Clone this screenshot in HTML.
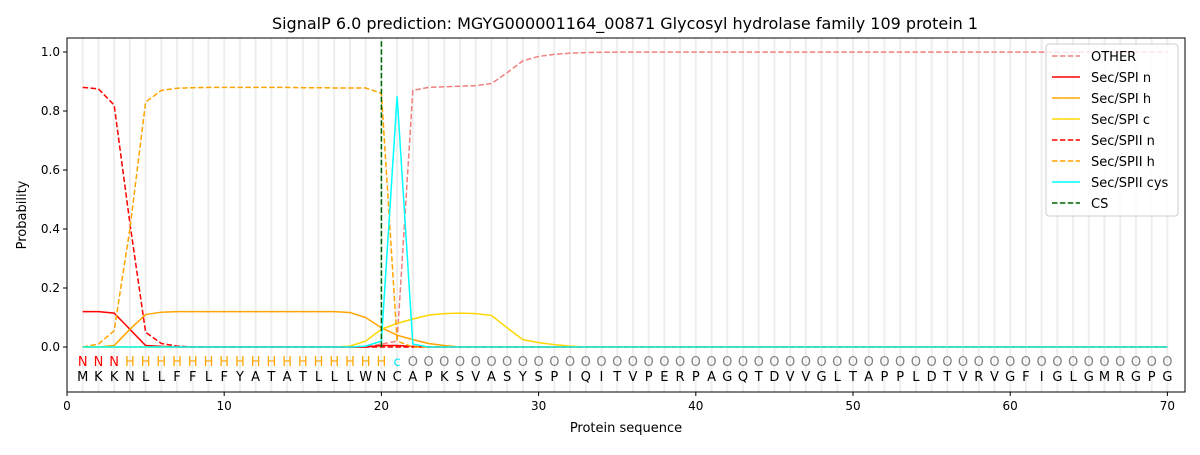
<!DOCTYPE html>
<html><head><meta charset="utf-8"><style>
body{margin:0;background:#fff;font-family:"Liberation Sans","DejaVu Sans",sans-serif}
svg text{font-family:"DejaVu Sans","Liberation Sans",sans-serif}
</style></head><body>
<svg id="chart" width="1200" height="450" xmlns="http://www.w3.org/2000/svg">
<rect width="1200" height="450" fill="#fff"/>
<text x="625" y="29" font-size="16" text-anchor="middle">SignalP 6.0 prediction: MGYG000001164_00871 Glycosyl hydrolase family 109 protein 1</text>
<g id="grid"></g><g id="series"></g><g id="labels"></g>
<rect x="67" y="38" width="1118" height="354" fill="none" stroke="#000" stroke-width="1"/>
<g id="axes"></g>
<text x="626" y="432" font-size="13" text-anchor="middle">Protein sequence</text>
<text transform="translate(26,215) rotate(-90)" font-size="13" text-anchor="middle">Probability</text>
<g id="legend"></g>
</svg>
<script>
const sequence = "MKKNLLFFLFYATATLLLWNCAPKSVASYSPIQITVPERPAGQTDVVGLTAPPLDTVRVGFIGLGMRGPG";
const regionLabels = "NNNHHHHHHHHHHHHHHHHHcOOOOOOOOOOOOOOOOOOOOOOOOOOOOOOOOOOOOOOOOOOOOOOOOOO";
const other = [0,0,0,0,0,0,0,0,0,0,0,0,0,0,0,0,0,0,0,0.01,0.02,0.87,0.88,0.882,0.884,0.886,0.893,0.93,0.97,0.985,0.992,0.996,0.998,0.999];
const spiN = [0.12,0.12,0.115,0.06,0.005,0.002,0,0,0,0,0,0,0,0,0,0,0,0,0,0.005,0.005,0.002];
const spiH = [0,0,0.005,0.06,0.11,0.118,0.12,0.12,0.12,0.12,0.12,0.12,0.12,0.12,0.12,0.12,0.12,0.117,0.1,0.065,0.04,0.025,0.012,0.005];
const spiC = [0,0,0,0,0,0,0,0,0,0,0,0,0,0,0,0,0,0.003,0.02,0.06,0.08,0.095,0.108,0.113,0.115,0.113,0.107,0.065,0.025,0.015,0.008,0.003];
const spiiN = [0.88,0.875,0.82,0.42,0.05,0.012,0.003];
const spiiH = [0,0.01,0.055,0.4,0.83,0.87,0.877,0.879,0.88,0.88,0.88,0.88,0.88,0.88,0.879,0.879,0.878,0.878,0.878,0.86,0.02,0];
const spiiCys = [0,0,0,0,0,0,0,0,0,0,0,0,0,0,0,0,0,0,0.003,0.02,0.85,0.01];
const csPos = 20;
const xTicks = [0,10,20,30,40,50,60,70];
const yTicks = [0,0.2,0.4,0.6,0.8,1.0];
const N = 70;
const X = v => 67 + v*15.72;
const Y = v => 347 - v*295;
const NS="http://www.w3.org/2000/svg";
function mk(tag, attrs, parent, txt){const e=document.createElementNS(NS,tag);for(const k in attrs)e.setAttribute(k,attrs[k]);if(txt!==undefined)e.textContent=txt;document.getElementById(parent).appendChild(e);return e;}
for(let i=1;i<=N;i++){const l=mk('line',{x1:X(i),x2:X(i),y1:38,y2:392,stroke:'#eeeeee','stroke-width':2},'grid');

}
function full(arr){const o=[];for(let i=0;i<N;i++)o.push(i<arr.length?arr[i]:0);if(arr===other)for(let i=arr.length;i<N;i++)o[i]=0.9995;return o;}
const D='5.5,2.4';
const series=[
 {name:'OTHER',d:other,c:'#f08080',dash:D},
 {name:'Sec/SPI n',d:spiN,c:'#ff0000',dash:''},
 {name:'Sec/SPI h',d:spiH,c:'#ffa500',dash:''},
 {name:'Sec/SPI c',d:spiC,c:'#ffd700',dash:''},
 {name:'Sec/SPII n',d:spiiN,c:'#ff0000',dash:D},
 {name:'Sec/SPII h',d:spiiH,c:'#ffa500',dash:D},
 {name:'Sec/SPII cys',d:spiiCys,c:'#00ffff',dash:''}];
series.forEach(s=>{const v=full(s.d);const pts=v.map((y,i)=>X(i+1)+','+Y(y)).join(' ');
const p=mk('polyline',{points:pts,fill:'none',stroke:s.c,'stroke-width':1.5,'stroke-dasharray':s.dash},'series');

});
const cs=mk('line',{x1:X(csPos),x2:X(csPos),y1:Y(0),y2:Y(1.04),stroke:'#006400','stroke-width':1.5,'stroke-dasharray':D},'series');


const rc={N:'#ff0000',H:'#ffa500',c:'#00e5ee',O:'#808080'};
for(let i=0;i<N;i++){
 const a=mk('text',{x:X(i+1),y:366,'font-size':13,'text-anchor':'middle',fill:rc[regionLabels[i]]},'labels',regionLabels[i]);
 
 
 const b=mk('text',{x:X(i+1),y:381,'font-size':13,'text-anchor':'middle',fill:'#000'},'labels',sequence[i]);
 
 }
xTicks.forEach(t=>{mk('line',{x1:X(t),x2:X(t),y1:392,y2:396,stroke:'#000'},'axes');
const e=mk('text',{x:X(t),y:410,'font-size':12,'text-anchor':'middle'},'axes',String(t));

});
yTicks.forEach(t=>{mk('line',{x1:63,x2:67,y1:Y(t),y2:Y(t),stroke:'#000'},'axes');
const e=mk('text',{x:60,y:Y(t)+4,'font-size':12,'text-anchor':'end'},'axes',t.toFixed(1));

});
const lb=mk('rect',{x:1046,y:44,width:132,height:172,rx:3,fill:'#fff','fill-opacity':0.8,stroke:'#ccc'},'legend');


const leg=series.concat([{name:'CS',c:'#006400',dash:D}]);
leg.forEach((s,i)=>{const y=56+i*21;
mk('line',{x1:1052,x2:1080,y1:y,y2:y,stroke:s.c,'stroke-width':1.5,'stroke-dasharray':s.dash},'legend');
const t=mk('text',{x:1091,y:y+5,'font-size':13},'legend',s.name);

});
</script>
</body></html>
